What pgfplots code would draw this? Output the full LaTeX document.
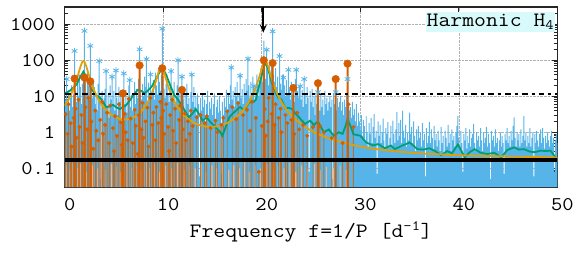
\documentclass[border=0pt]{standalone}
\usepackage{fontspec}
\setmonofont[FakeStretch=1.13]{Latin Modern Mono}
\usepackage{pgfplots}
\usepackage{pgfplotstable}
\usetikzlibrary{arrows.meta}
\pgfplotsset{compat=1.18}
\definecolor{cblue}{HTML}{56B4E9}
\definecolor{corange}{HTML}{D55E00}
\definecolor{cyellow}{HTML}{E69F00}
\definecolor{cgreen}{HTML}{009E73}
\definecolor{cpeach}{HTML}{F2B48A}
\definecolor{boxbg}{HTML}{D8FAFA}

% blue periodogram, sampled every 0.1 d^-1 from 0 to 50
\pgfplotstableread[row sep=\\]{
y\\
12\\ 8\\ 30\\ 6\\ 15\\ 4\\ 9\\ 20\\ 5\\ 11\\
180\\ 14\\ 7\\ 25\\ 10\\ 40\\ 18\\ 6\\ 22\\ 35\\
650\\ 30\\ 12\\ 45\\ 20\\ 8\\ 250\\ 15\\ 9\\ 28\\
18\\ 6\\ 12\\ 4\\ 22\\ 95\\ 10\\ 0.05\\ 14\\ 7\\
9\\ 16\\ 50\\ 5\\ 11\\ 2.5\\ 20\\ 8\\ 35\\ 6\\
14\\ 4\\ 52\\ 9\\ 3\\ 18\\ 7\\ 12\\ 2\\ 10\\
43\\ 6\\ 15\\ 3.5\\ 9\\ 20\\ 28\\ 5\\ 11\\ 4\\
12\\ 25\\ 6\\ 16\\ 9\\ 30\\ 200\\ 14\\ 8\\ 22\\
10\\ 35\\ 18\\ 107\\ 7\\ 24\\ 12\\ 40\\ 9\\ 15\\
28\\ 8\\ 45\\ 20\\ 11\\ 60\\ 25\\ 14\\ 38\\ 750\\
30\\ 16\\ 9\\ 22\\ 40\\ 12\\ 7\\ 18\\ 50\\ 10\\
14\\ 25\\ 6\\ 9\\ 20\\ 100\\ 12\\ 5\\ 16\\ 35\\
8\\ 14\\ 4\\ 11\\ 22\\ 6\\ 9\\ 3\\ 13\\ 40\\
7\\ 18\\ 5\\ 10\\ 3\\ 12\\ 6\\ 0.06\\ 9\\ 4\\
11\\ 5\\ 8\\ 2\\ 6\\ 14\\ 3\\ 7\\ 4.5\\ 9\\
3\\ 6\\ 12\\ 2\\ 5\\ 8\\ 3.5\\ 10\\ 4\\ 0.07\\
7\\ 3\\ 9\\ 5\\ 15\\ 4\\ 11\\ 6\\ 20\\ 63\\
8\\ 14\\ 5\\ 18\\ 10\\ 25\\ 7\\ 12\\ 37\\ 9\\
16\\ 6\\ 22\\ 11\\ 30\\ 14\\ 110\\ 20\\ 9\\ 25\\
12\\ 35\\ 19\\ 8\\ 15\\ 40\\ 22\\ 10\\ 28\\ 60\\
45\\ 25\\ 350\\ 80\\ 30\\ 195\\ 55\\ 20\\ 70\\ 35\\
90\\ 630\\ 40\\ 25\\ 60\\ 18\\ 35\\ 12\\ 130\\ 22\\
15\\ 40\\ 33\\ 20\\ 10\\ 28\\ 12\\ 54\\ 16\\ 8\\
25\\ 11\\ 18\\ 7\\ 30\\ 54\\ 14\\ 9\\ 20\\ 19\\
8\\ 15\\ 5\\ 30\\ 12\\ 6\\ 18\\ 9\\ 0.08\\ 14\\
7\\ 16\\ 5\\ 10\\ 3\\ 12\\ 6\\ 13\\ 9\\ 4\\
11\\ 5\\ 8\\ 3\\ 14\\ 6\\ 9\\ 4\\ 7\\ 10\\
5\\ 8\\ 0.05\\ 12\\ 6\\ 13\\ 4\\ 9\\ 5\\ 7\\
10\\ 4\\ 7\\ 3\\ 8\\ 5\\ 12\\ 30\\ 6\\ 4\\
5\\ 2.5\\ 7\\ 3\\ 4.4\\ 2\\ 6\\ 1.5\\ 3.5\\ 2\\
1.2\\ 3\\ 0.8\\ 2.2\\ 1.5\\ 0.6\\ 2.8\\ 1\\ 0.4\\ 1.8\\
0.9\\ 2.5\\ 0.5\\ 1.4\\ 3.2\\ 0.7\\ 1.1\\ 0.07\\ 2\\ 0.8\\
1.6\\ 0.5\\ 1\\ 2.4\\ 0.6\\ 0.3\\ 1.3\\ 0.9\\ 1.9\\ 0.4\\
0.7\\ 1.5\\ 0.4\\ 2.1\\ 0.9\\ 0.5\\ 1.2\\ 3.6\\ 0.6\\ 1.8\\
0.8\\ 2.2\\ 0.5\\ 4\\ 1.1\\ 0.7\\ 1.6\\ 0.4\\ 1\\ 0.6\\
3.5\\ 0.9\\ 1.4\\ 0.5\\ 2\\ 0.8\\ 0.3\\ 1.2\\ 0.6\\ 1.5\\
0.7\\ 1\\ 0.4\\ 1.8\\ 0.6\\ 0.9\\ 0.06\\ 1.3\\ 0.5\\ 0.8\\
1.9\\ 0.5\\ 1.2\\ 0.7\\ 0.3\\ 1.5\\ 0.6\\ 0.9\\ 0.4\\ 1.1\\
0.6\\ 0.3\\ 1.4\\ 0.5\\ 0.8\\ 0.25\\ 1.1\\ 0.7\\ 0.4\\ 1.6\\
0.5\\ 0.9\\ 0.3\\ 1.2\\ 0.6\\ 0.8\\ 0.4\\ 1\\ 1.5\\ 2.8\\
0.7\\ 0.4\\ 1.1\\ 0.5\\ 0.08\\ 0.9\\ 0.6\\ 1.3\\ 0.35\\ 0.8\\
0.5\\ 1.2\\ 0.4\\ 0.7\\ 0.9\\ 1.7\\ 0.5\\ 0.3\\ 1\\ 0.6\\
0.8\\ 0.4\\ 1.3\\ 0.6\\ 0.3\\ 1\\ 0.5\\ 0.7\\ 1.4\\ 0.4\\
0.9\\ 0.5\\ 0.05\\ 1.1\\ 0.6\\ 0.8\\ 0.4\\ 1.2\\ 0.5\\ 0.7\\
0.3\\ 0.6\\ 1\\ 0.4\\ 0.8\\ 0.5\\ 0.07\\ 0.9\\ 0.6\\ 1.3\\
0.5\\ 0.8\\ 0.4\\ 1.1\\ 0.6\\ 1.5\\ 2.6\\ 0.7\\ 0.4\\ 1\\
0.6\\ 0.9\\ 0.4\\ 1.2\\ 0.5\\ 0.8\\ 2.8\\ 0.6\\ 1\\ 0.4\\
0.8\\ 0.5\\ 1.3\\ 0.4\\ 0.7\\ 1\\ 0.06\\ 0.9\\ 0.5\\ 1.1\\
0.6\\ 0.4\\ 0.9\\ 1.2\\ 0.5\\ 1.3\\ 0.7\\ 0.35\\ 0.8\\ 0.5\\
1\\ 0.6\\ 0.4\\ 0.8\\ 1.1\\ 0.5\\ 0.7\\ 0.08\\ 0.6\\ 0.9\\
0.5\\
}\bluedata

\begin{document}
\begin{tikzpicture}
\begin{axis}[
  scale only axis, width=495bp, height=181bp,
  xmin=0, xmax=50, ymin=0.03, ymax=3000, ymode=log,
  log origin=infty,
  xtick={0,10,20,30,40,50}, xticklabels={0,10,20,30,40,50},
  ytick={0.1,1,10,100,1000}, yticklabels={0.1,1,10,100,1000},
  minor ytick={0.03,0.04,0.05,0.06,0.07,0.08,0.09,0.2,0.3,0.4,0.5,0.6,0.7,0.8,0.9,2,3,4,5,6,7,8,9,20,30,40,50,60,70,80,90,200,300,400,500,600,700,800,900,2000,3000},
  grid=major, major grid style={densely dotted, black!30, line width=0.6bp},
  axis line style={line width=1.2bp, black!85},
  tick style={black!85, line width=0.8bp},
  major tick length=5bp, minor tick length=3bp,
  every tick label/.append style={font=\ttfamily\fontsize{19.5bp}{22bp}\selectfont},
  xticklabel style={xshift=5bp, yshift=-8bp},
  yticklabel style={xshift=-6bp},
  xlabel={Frequency f=1/P [d\textsuperscript{-1}]},
  xlabel style={font=\ttfamily\fontsize{20.5bp}{23bp}\selectfont, at={(axis description cs:0.5,0)}, anchor=base, yshift=-51bp},
  clip=true,
]
% blue periodogram
\addplot[ybar, bar width=1.0bp, bar shift=0pt, fill=cblue, draw=none] table[x expr=\coordindex/10, y=y] {\bluedata};
% significant blue peaks
\addplot[only marks, cblue, mark=asterisk, mark size=3.2bp, line width=0.8bp] coordinates {
(0.2,30)(1.0,180)(2.0,650)(2.6,250)(3.5,95)(4.2,50)(4.8,35)(5.2,52)(6.0,43)(6.6,28)
(7.6,200)(8.3,107)(8.7,40)(9.9,750)(10.8,50)(11.5,100)(11.9,35)(12.9,40)(16.9,63)
(17.8,37)(18.6,110)(19.2,19)(20.5,195)(21.1,630)(21.8,130)(22.2,33)(22.7,54)(23.5,54)
(23.9,19)(24.3,30)(25.7,13)(27.5,13)(28.7,30)};
% pale orange low bars
\addplot[ybar, bar width=1.1bp, bar shift=0pt, fill=cpeach, draw=none] coordinates {
(0.15,0.12)(0.55,0.09)(0.85,0.14)(1.35,0.1)(1.65,0.13)(2.25,0.08)(2.85,0.12)(3.35,0.1)(3.75,0.15)(4.15,0.09)
(4.75,0.13)(5.25,0.11)(5.65,0.08)(6.35,0.14)(6.85,0.1)(7.35,0.12)(7.75,0.09)(8.25,0.15)(8.65,0.1)(9.15,0.13)
(9.65,0.08)(10.25,0.12)(10.85,0.1)(11.45,0.14)(12.15,0.09)(12.65,0.12)(13.25,0.1)(13.85,0.13)(14.35,0.08)(14.95,0.12)
(15.45,0.1)(16.05,0.14)(16.65,0.09)(17.15,0.12)(17.75,0.1)(18.25,0.15)(18.75,0.08)(19.35,0.12)(19.85,0.1)(20.55,0.13)
(21.15,0.09)(21.65,0.12)(22.25,0.1)(22.85,0.14)(23.45,0.08)(24.05,0.12)(24.65,0.1)(25.35,0.13)(25.95,0.09)(26.55,0.11)
(27.25,0.1)(27.95,0.12)(28.55,0.09)};
% orange stems with small markers
\addplot[ybar, bar width=0.9bp, bar shift=0pt, fill=corange, fill opacity=0.8, draw=none, mark=*, mark size=1.8bp, mark options={fill=corange, draw=corange, opacity=1}] coordinates {
(0.1,3.2)(0.3,0.9)(0.4,6)(0.6,1.8)(0.7,0.4)(0.9,2.5)(1.1,4.5)(1.2,0.7)(1.4,8)(1.5,1.4)(1.7,3)(1.8,0.5)
(2.1,5)(2.3,1.2)(2.4,9)(2.7,2)(2.9,0.35)(3.1,4)(3.2,1.1)(3.4,0.6)(3.6,2.2)(3.8,7)(3.9,0.9)(4.1,1.6)
(4.3,3.5)(4.5,0.5)(4.6,5.5)(4.9,1.3)(5.0,0.3)(5.1,2.8)(5.3,0.8)(5.5,6)(5.7,1.9)(5.8,0.45)(6.1,3.2)(6.2,1)
(6.4,0.6)(6.5,8.5)(6.7,2.4)(6.9,0.5)(7.1,4.2)(7.2,1.5)(7.4,0.25)(7.5,3)(7.8,1.2)(7.9,6.5)(8.0,0.7)(8.2,2)
(8.4,4.8)(8.5,0.4)(8.7,9)(8.9,1.6)(9.0,3.5)(9.2,0.6)(9.3,5)(9.5,1.8)(9.7,7)(9.8,2.5)(10.0,4)(10.1,0.9)
(10.3,6)(10.5,1.4)(10.6,0.3)(10.7,3)(10.9,8)(11.0,1.1)(11.2,4.5)(11.3,0.5)(11.6,2.2)(11.7,5.5)(12.0,1.2)(12.2,3.3)
(12.3,0.6)(12.5,2)(12.7,0.9)(12.8,4)(13.0,1.5)(13.4,2.6)(13.8,3)(14.2,1.8)(14.4,2.8)
(14.8,1.3)(15.3,2.1)(15.5,1)(15.9,1.6)(16.1,2.5)(16.5,3.8)(17.0,5)
(17.4,2.3)(17.6,6.5)(18.1,3)(18.5,4.2)(18.8,1.1)(19.0,7)(19.4,2.5)(19.7,0.08)
(20.0,1.5)(20.3,4.4)(20.4,0.8)(20.6,2)(20.7,9)(21.0,3.2)(21.3,1.6)(21.4,6)(21.7,2.5)(21.9,4.5)
(22.0,1)(22.4,3)(22.6,1.8)(23.0,2.2)(23.3,0.9)(23.6,3.5)(23.8,1.2)(24.2,1.6)
(24.6,0.8)(25.2,1.4)(25.9,1.5)(26.3,1)(27.1,0.7)(28.2,0.5)(28.8,6)(29.3,1.4)};
% smoothed spectrum (green)
\addplot[cgreen, line width=1.8bp] coordinates {
(0,12)(0.5,14)(1.2,21)(1.6,35)(1.9,48)(2.2,35)(2.7,16)(3.2,10.5)(3.6,9)(3.9,7)(4.2,5)(4.6,5.2)(4.9,5.8)
(5.3,4.8)(5.6,4.4)(5.9,5)(6.2,5.5)(6.7,8.3)(7.0,11)(7.4,15)(7.8,14)(8.1,12)(8.4,14)(8.8,18)(9.2,28)(9.6,45)
(9.9,56)(10.2,45)(10.6,24)(11.1,11)(11.5,8)(11.9,5.5)(12.3,3.5)(12.6,2.6)(13.0,3.4)(13.3,4.4)(13.7,3)(14.0,2.1)
(14.4,2.6)(14.8,1.9)(15.2,1.5)(15.5,1.2)(15.8,1)(16.0,0.8)(16.3,1.3)(16.7,2.6)(17.0,3.2)(17.3,3.8)(17.6,4.6)
(17.8,5)(18.1,4.3)(18.3,4.4)(18.6,6)(18.9,7.4)(19.2,7)(19.4,8)(19.7,18)(19.9,30)(20.2,65)(20.4,86)(20.7,50)
(21.0,25)(21.4,12.7)(21.7,9)(22.0,8)(22.4,4.5)(22.7,4.8)(23.1,4.4)(23.4,3.3)(23.7,2.8)(24.0,2.2)(24.4,1.7)
(24.9,2.1)(25.3,1.6)(25.7,2)(26.0,1.4)(26.3,1.0)(26.8,1.2)(27.3,0.8)(27.8,1.0)(28.2,0.9)(28.5,1.5)(28.7,2.3)
(29.0,1.5)(29.3,0.88)(30.0,0.8)(30.6,0.52)(31.3,0.43)(31.8,0.47)(32.5,0.36)(33.1,0.43)(33.5,0.34)(34.2,0.42)
(35.0,0.52)(35.8,0.34)(36.4,0.33)(37.0,0.36)(37.6,0.3)(38.2,0.23)(38.8,0.30)(39.3,0.26)(39.9,0.46)(40.6,0.20)
(41.1,0.28)(41.6,0.34)(42.2,0.27)(42.9,0.25)(43.6,0.27)(44.3,0.2)(44.9,0.32)(45.6,0.38)(46.1,0.33)(46.6,0.34)
(47.2,0.29)(47.7,0.28)(48.3,0.31)(48.8,0.30)(49.3,0.31)(49.8,0.2)(50,0.2)};
% Lorentzian fit (yellow-orange)
\addplot[cyellow, line width=1.8bp, smooth] coordinates {
(0,5.40)(0.5,9.27)(1.0,19.4)(1.3,34.6)(1.6,66.2)(1.8,90.9)(1.9,95.4)(2.0,90.9)(2.2,66.2)(2.5,34.7)(2.8,19.5)
(3.2,10.7)(3.7,6.16)(4.3,3.88)(5.0,2.75)(5.6,2.34)(6.3,2.25)(7.0,2.57)(7.6,3.38)(8.2,5.36)(8.7,9.7)(9.1,19.1)
(9.4,35.8)(9.6,53.2)(9.8,63.6)(10.0,53.2)(10.2,35.8)(10.5,19.0)(10.9,9.65)(11.4,5.24)(12.0,3.17)(12.7,2.15)
(13.5,1.64)(14.5,1.42)(15.5,1.47)(16.5,1.82)(17.3,2.51)(18.0,3.79)(18.6,6.31)(19.1,11.3)(19.5,21.2)(19.8,38.5)
(20.05,66.2)(20.25,90.9)(20.35,95.3)(20.45,90.8)(20.65,66.1)(20.9,38.4)(21.2,21.1)(21.6,11.2)(22.1,6.2)(22.7,3.6)
(23.5,2.16)(24.5,1.35)(25.5,0.95)(27.0,0.65)(28.5,0.50)(30,0.40)(32,0.33)(34,0.29)(36,0.26)(38,0.245)(40,0.23)
(43,0.22)(46,0.21)(50,0.20)};
% large orange peaks
\addplot[ybar, bar width=2bp, bar shift=0pt, fill=corange, draw=none, mark=*, mark size=3.8bp, mark options={fill=corange, draw=corange}] coordinates {
(1.0,31)(2.0,33)(2.6,26)(5.9,12)(7.6,72)(9.9,60)(11.9,15)(20.2,100)(21.1,83)(23.2,17)(25.7,23)(27.5,30)(28.7,80)};
% threshold lines
\addplot[black, line width=2bp, dash pattern=on 6bp off 4bp on 3bp off 4bp] coordinates {(0,11.3)(50,11.3)};
\addplot[black, line width=3.3bp] coordinates {(0,0.17)(50,0.17)};
% arrow marking the harmonic
\addplot[black, line width=2bp, -{Stealth[length=8bp,width=7bp]}] coordinates {(20.15,3000)(20.15,580)};
\node[fill=boxbg, anchor=north east, inner xsep=1bp, inner ysep=1bp, text height=13bp, text depth=5bp,
  font=\ttfamily\fontsize{20.5bp}{23bp}\selectfont] at ([shift={(-2bp,-5bp)}]rel axis cs:1,1) {Harmonic H\textsubscript{4}};
\end{axis}
\path ([shift={(-65bp,-76bp)}]current axis.south west) rectangle ([shift={(17bp,7bp)}]current axis.north east);
\end{tikzpicture}
\end{document}
